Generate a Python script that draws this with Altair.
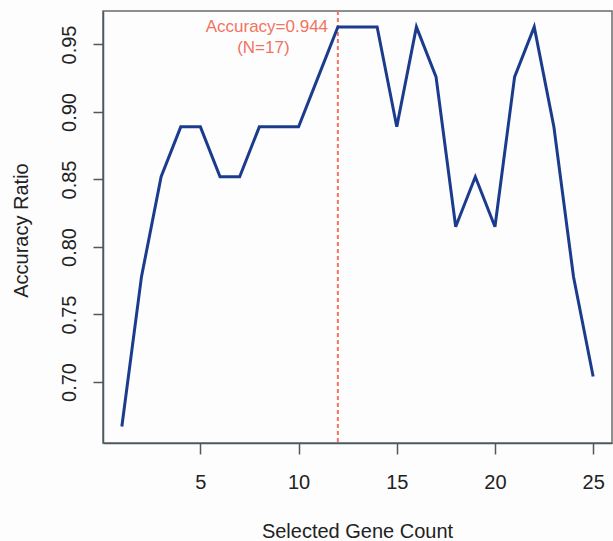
import altair as alt
import pandas as pd

gene_count = list(range(1, 26))
accuracy = [0.667, 0.778, 0.852, 0.889, 0.889, 0.852, 0.852, 0.889, 0.889, 0.889,
            0.926, 0.963, 0.963, 0.963, 0.889, 0.963, 0.926, 0.815, 0.852, 0.815,
            0.926, 0.963, 0.889, 0.778, 0.704]
x_ticks = [5, 10, 15, 20, 25]
y_ticks = [0.70, 0.75, 0.80, 0.85, 0.90, 0.95]
best_n = [12]
note_line1 = ["Accuracy=0.944"]
note_line2 = ["(N=17)"]

df = pd.DataFrame({"count": gene_count, "acc": accuracy})
best = pd.DataFrame({"n": best_n, "l1": note_line1, "l2": note_line2})

FONT = "Liberation Sans"
RED = "#f2735f"

x_enc = alt.X(
    "count:Q",
    scale=alt.Scale(domain=[0.04, 25.96], nice=False, zero=False),
    axis=alt.Axis(
        values=x_ticks, title="Selected Gene Count", grid=False,
        tickSize=11, tickWidth=1.5, tickColor="#4a5a60",
        domainColor="#4a5a60", domainWidth=1.5,
        labelFontSize=20, labelFont=FONT, labelColor="#222222",
        labelBaseline="alphabetic", labelPadding=34, labelFlush=False,
        titleFontSize=20, titleFont=FONT, titleFontWeight="normal", titleColor="#222222",
        titleX=254, titleY=94, titleBaseline="alphabetic", titleAlign="center",
    ),
)
y_enc = alt.Y(
    "acc:Q",
    scale=alt.Scale(domain=[0.6548, 0.9748], nice=False, zero=False),
    axis=alt.Axis(
        values=y_ticks, format=".2f", title="Accuracy Ratio", grid=False,
        tickSize=10, tickWidth=1.5, tickColor="#4a5a60",
        domainColor="#4a5a60", domainWidth=1.5,
        labelFontSize=20, labelFont=FONT, labelColor="#222222",
        labelAngle=270, labelAlign="center", labelBaseline="alphabetic",
        labelPadding=18, labelFlush=False,
        titleFontSize=20, titleFont=FONT, titleFontWeight="normal", titleColor="#222222",
        titleAngle=270, titleX=-76, titleY=219, titleBaseline="alphabetic",
        titleAlign="center",
    ),
)

line = alt.Chart(df).mark_line(color="#1b3c8c", strokeWidth=3).encode(x=x_enc, y=y_enc)

rule = alt.Chart(best).mark_rule(color=RED, strokeWidth=2, strokeDash=[4, 3]).encode(
    x="n:Q"
)

t1 = alt.Chart(best).mark_text(
    color=RED, font=FONT, fontSize=17, fontWeight="normal", align="center",
    baseline="alphabetic", dx=-71
).encode(x="n:Q", y=alt.value(20.7), text="l1:N")

t2 = alt.Chart(best).mark_text(
    color=RED, font=FONT, fontSize=17, fontWeight="normal", align="center",
    baseline="alphabetic", dx=-74.5
).encode(x="n:Q", y=alt.value(41.7), text="l2:N")

chart = alt.layer(rule, line, t1, t2).properties(
    width=509, height=432,
    autosize=alt.AutoSizeParams(type="none"),
    padding={"left": 103, "top": 11, "right": 1, "bottom": 98},
    background="#fdfdfe",
).configure_view(stroke="#6a6a6a", strokeWidth=1.5)

chart.save("out.html", embed_options={"renderer": "svg", "actions": False})
